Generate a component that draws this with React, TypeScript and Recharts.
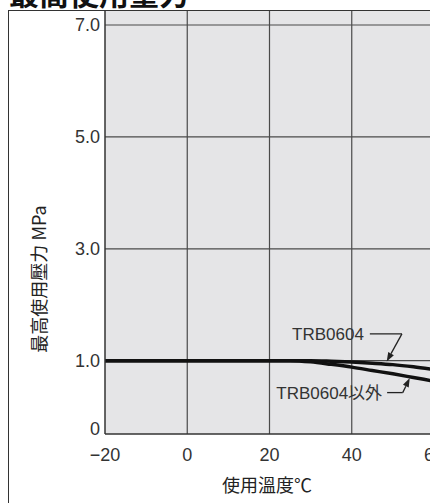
import React from 'react';
import { LineChart, Line, XAxis, YAxis, CartesianGrid, ReferenceLine } from 'recharts';

// ---- data ----
const temps = [-20, 0, 20, 25, 30, 35, 40, 45, 50, 55, 60];
const trb0604 = [1.0, 1.0, 1.0, 1.0, 1.0, 0.99, 0.975, 0.955, 0.93, 0.89, 0.84];
const trbOther = [1.0, 1.0, 1.0, 1.0, 0.98, 0.935, 0.885, 0.825, 0.765, 0.7, 0.635];

const xTicks = [-20, 0, 20, 40, 60];
const xTickLabels = ['\u221220', '0', '20', '40', '60'];
// the axis is broken below 1.0: the "0" tick sits at the bottom of the plot
const yTicks = [-0.31, 1, 3, 5, 7];
const yTickLabels = ['0', '1.0', '3.0', '5.0', '7.0'];
const yGridValues = [1, 3, 5, 7];
const xGridValues = [0, 20, 40, 60];

const seriesNames = ['TRB0604', 'TRB0604以外'];
// annotation leaders [label anchor start, label anchor end, arrow tip] in data units
const leaderTRB = [
  { x: 44.4, y: 1.48 },
  { x: 52.2, y: 1.48 },
  { x: 48.5, y: 0.985 },
];
const leaderOther = [
  { x: 48.6, y: 0.43 },
  { x: 52.4, y: 0.43 },
  { x: 54.1, y: 0.69 },
];

const data = temps.map((t, i) => ({ t, trb0604: trb0604[i], other: trbOther[i] }));

const FONT = '"Liberation Sans", "Noto Sans CJK JP", sans-serif';
const CJK = '"Noto Sans CJK JP", "Liberation Sans", sans-serif';

const ArrowShape = (props: any) => {
  const { x1, y1, x2, y2 } = props;
  const dx = x2 - x1;
  const dy = y2 - y1;
  const len = Math.sqrt(dx * dx + dy * dy) || 1;
  const ux = dx / len;
  const uy = dy / len;
  const ah = 9;
  const aw = 3.2;
  const bx = x2 - ux * ah;
  const by = y2 - uy * ah;
  const p1 = `${bx - uy * aw},${by + ux * aw}`;
  const p2 = `${bx + uy * aw},${by - ux * aw}`;
  return (
    <g>
      <line x1={x1} y1={y1} x2={bx} y2={by} stroke="#222" strokeWidth={1.3} />
      <polygon points={`${x2},${y2} ${p1} ${p2}`} fill="#222" />
    </g>
  );
};

const YTick = (props: any) => {
  const { x, y, payload, index } = props;
  const i = yTicks.indexOf(payload.value);
  return (
    <text
      x={x}
      y={y + (i === 0 ? -5 : 0)}
      textAnchor="end"
      dominantBaseline="central"
      fill="#333"
      fontSize={18}
      fontFamily={FONT}
    >
      {yTickLabels[i >= 0 ? i : index]}
    </text>
  );
};

export default function App() {
  return (
    <div
      style={{
        position: 'fixed',
        left: 0,
        top: 0,
        width: 430,
        height: 503,
        overflow: 'hidden',
        background: '#fff',
      }}
    >
      {/* cut-off title */}
      <div
        style={{
          position: 'absolute',
          left: 9,
          top: -23,
          fontSize: 30,
          lineHeight: '30px',
          fontWeight: 700,
          fontFamily: CJK,
          color: '#111',
          whiteSpace: 'nowrap',
        }}
      >
        最高使用壓力
      </div>
      {/* outer frame */}
      <div
        style={{
          position: 'absolute',
          left: 8,
          top: 10,
          width: 460,
          height: 560,
          border: '1.5px solid #333',
          boxSizing: 'border-box',
        }}
      />
      <div style={{ position: 'absolute', left: 0, top: 0 }}>
        <LineChart width={440} height={503} data={data} margin={{ top: 11, right: 6, left: 0, bottom: 0 }}>
          <CartesianGrid
            fill="#e5e5e7"
            stroke="#4a4a4a"
            strokeWidth={1.2}
            horizontalValues={yGridValues}
            verticalValues={xGridValues}
          />
          <XAxis
            dataKey="t"
            type="number"
            domain={[-20, 60]}
            ticks={xTicks}
            interval={0}
            tickFormatter={(v: number) => xTickLabels[xTicks.indexOf(v)]}
            tickLine={false}
            tickSize={0}
            tickMargin={14}
            height={69}
            axisLine={{ stroke: '#333', strokeWidth: 1.5 }}
            tick={{ fill: '#333', fontSize: 18, fontFamily: FONT }}
          />
          <YAxis
            type="number"
            domain={[-0.31, 7.25]}
            ticks={yTicks}
            interval={0}
            width={105}
            tickLine={false}
            tickSize={0}
            tickMargin={5}
            axisLine={{ stroke: '#333', strokeWidth: 1.5 }}
            tick={<YTick />}
          />
          <Line
            dataKey="other"
            name={seriesNames[1]}
            type="monotone"
            stroke="#111"
            strokeWidth={3.5}
            dot={false}
            isAnimationActive={false}
          />
          <Line
            dataKey="trb0604"
            name={seriesNames[0]}
            type="monotone"
            stroke="#111"
            strokeWidth={3.5}
            dot={false}
            isAnimationActive={false}
          />
          <ReferenceLine
            segment={[leaderTRB[0], leaderTRB[1]]}
            stroke="#222"
            strokeWidth={1.3}
            ifOverflow="visible"
            label={{ value: seriesNames[0], position: 'left', offset: 6, fill: '#333', fontSize: 17, fontFamily: FONT }}
          />
          <ReferenceLine
            segment={[leaderTRB[1], leaderTRB[2]]}
            ifOverflow="visible"
            shape={ArrowShape}
          />
          <ReferenceLine
            segment={[leaderOther[0], leaderOther[1]]}
            stroke="#222"
            strokeWidth={1.3}
            ifOverflow="visible"
            label={{ value: seriesNames[1], position: 'left', offset: 5, fill: '#333', fontSize: 17, fontFamily: FONT }}
          />
          <ReferenceLine
            segment={[leaderOther[1], leaderOther[2]]}
            ifOverflow="visible"
            shape={ArrowShape}
          />
        </LineChart>
      </div>
      {/* axis titles */}
      <div
        style={{
          position: 'absolute',
          left: 38,
          top: 279,
          transform: 'translate(-50%, -50%) rotate(-90deg)',
          fontSize: 18,
          fontFamily: CJK,
          color: '#222',
          whiteSpace: 'nowrap',
          lineHeight: 1,
        }}
      >
        最高使用壓力 MPa
      </div>
      <div
        style={{
          position: 'absolute',
          left: 267,
          top: 484,
          transform: 'translate(-50%, -50%)',
          fontSize: 18,
          fontFamily: CJK,
          color: '#222',
          whiteSpace: 'nowrap',
          lineHeight: 1,
        }}
      >
        使用溫度℃
      </div>
    </div>
  );
}
